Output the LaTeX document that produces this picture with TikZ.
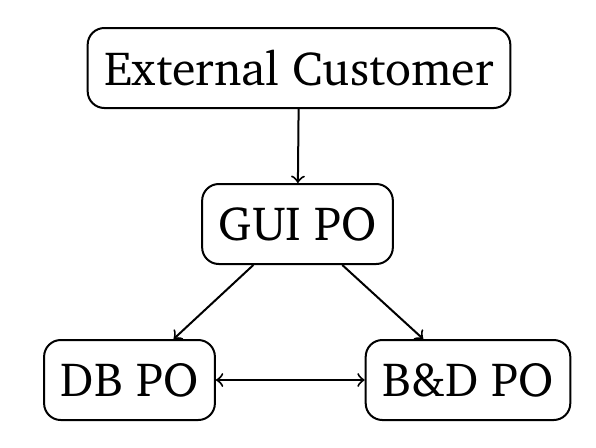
\documentclass[tikz,border=0pt]{standalone}
\usepackage[T1]{fontenc}
\usepackage{charter}
\usepackage{tikz}
\usetikzlibrary{arrows, positioning, calc}

\begin{document}
\begin{tikzpicture}[semithick, po/.style={draw, rounded corners=5pt, minimum height=24pt, inner xsep=5pt, font=\Large}]
\useasboundingbox (-89.7pt,20.4pt) rectangle (89.1pt,-113.7pt);
\node[po] (ext) at (0,0) {External Customer};
\node[po] (gui) at (-0.45pt,-46.8pt) {GUI PO};
\node[po] (db) at (-50.85pt,-93.6pt) {DB PO};
\node[po] (bd) at (50.7pt,-93.6pt) {B\&D PO};
\draw[->] (ext) -- (gui);
\draw[->] (gui) -- (db);
\draw[->] (gui) -- (bd);
\draw[<->] (db) -- (bd);
\end{tikzpicture}
\end{document}
